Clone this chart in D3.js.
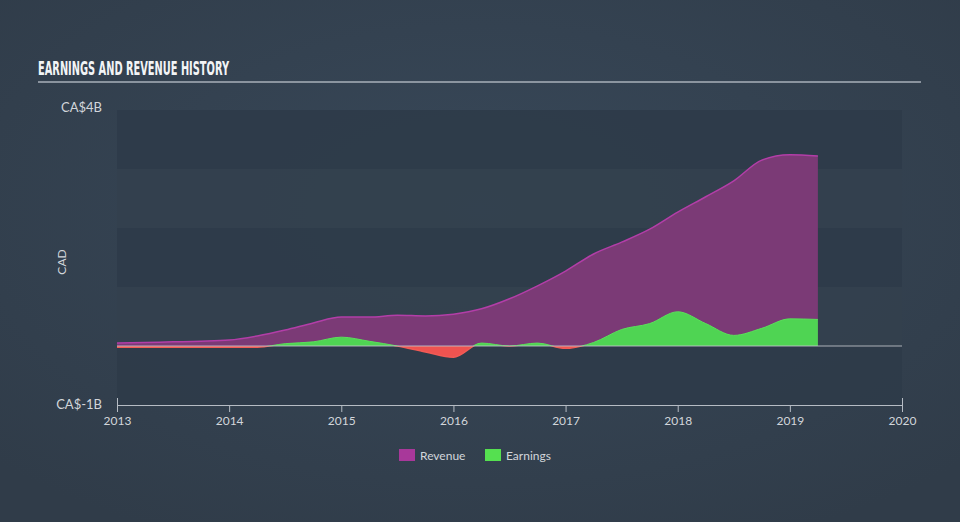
<!DOCTYPE html>
<html><head><meta charset="utf-8">
<script src="https://cdn.jsdelivr.net/npm/d3@7"></script>
<style>html,body{margin:0;padding:0;background:#333f4c;}svg{display:block;}</style>
</head><body>
<svg id="chart" width="960" height="522"></svg>
<script>
const years = [2013,2013.25,2013.5,2013.75,2014,2014.25,2014.5,2014.75,2015,2015.25,2015.5,2015.75,2016,2016.25,2016.5,2016.75,2017,2017.25,2017.5,2017.75,2018,2018.25,2018.5,2018.75,2019,2019.25];
const revenue = [0.05,0.06,0.07,0.08,0.10,0.17,0.27,0.39,0.49,0.49,0.52,0.51,0.54,0.63,0.80,1.02,1.27,1.56,1.76,1.98,2.27,2.53,2.80,3.15,3.24,3.22];
const earnings = [-0.02,-0.02,-0.02,-0.02,-0.02,-0.02,0.04,0.07,0.15,0.08,0.0,-0.10,-0.19,0.05,0.0,0.05,-0.04,0.06,0.28,0.38,0.58,0.38,0.18,0.30,0.46,0.45];
const xTicks = [2013,2014,2015,2016,2017,2018,2019,2020];
const yTickLabels = [{v:4,t:"CA$4B",dy:2},{v:-1,t:"CA$-1B",dy:4}];
const legendItems = [{name:"Revenue",color:"#a8389a"},{name:"Earnings",color:"#55e050"}];

const svg = d3.select("#chart");
const defs = svg.append("defs");
const rg = defs.append("radialGradient").attr("id","bg").attr("cx","50%").attr("cy","40%").attr("r","70%");
rg.append("stop").attr("offset","0%").attr("stop-color","#384859");
rg.append("stop").attr("offset","100%").attr("stop-color","#303c49");
svg.append("rect").attr("width",960).attr("height",522).attr("fill","url(#bg)");

const x = d3.scaleLinear().domain([2013,2020]).range([117,902]);
const y = d3.scaleLinear().domain([-1,4]).range([405,110]);

// bands
const bands = d3.range(-1,4);
svg.append("g").selectAll("rect").data(bands).join("rect")
  .attr("x",x(2013)).attr("width",x(2020)-x(2013))
  .attr("y",d=>y(d+1)).attr("height",d=>y(d)-y(d+1))
  .attr("fill",d=> (d%2===0) ? "#33404e" : "#2e3b49")
  .attr("opacity",0.9);

// title
svg.append("text").attr("x",38).attr("y",75)
  .attr("font-family","'Liberation Sans Narrow','DejaVu Sans Condensed',sans-serif")
  .attr("font-weight","bold").attr("font-size",19).attr("fill","#f2f4f6")
  .attr("textLength",191).attr("lengthAdjust","spacingAndGlyphs")
  .text("EARNINGS AND REVENUE HISTORY");
svg.append("line").attr("x1",38).attr("x2",921).attr("y1",82).attr("y2",82)
  .attr("stroke","#a9b1ba").attr("stroke-width",1.5);

const data = years.map((yr,i)=>({x:yr,r:revenue[i],e:earnings[i]}));
const curve = d3.curveMonotoneX;

// revenue
svg.append("path").datum(data)
  .attr("d",d3.area().curve(curve).x(d=>x(d.x)).y0(y(0)).y1(d=>y(d.r)))
  .attr("fill","#7b3a76");
svg.append("path").datum(data)
  .attr("d",d3.line().curve(curve).x(d=>x(d.x)).y(d=>y(d.r)))
  .attr("fill","none").attr("stroke","#b33ea8").attr("stroke-width",1.5);

// earnings clip
defs.append("clipPath").attr("id","above").append("rect")
  .attr("x",0).attr("y",0).attr("width",960).attr("height",y(0));
defs.append("clipPath").attr("id","below").append("rect")
  .attr("x",0).attr("y",y(0)).attr("width",960).attr("height",522-y(0));
const eArea = d3.area().curve(curve).x(d=>x(d.x)).y0(y(0)).y1(d=>y(d.e));
const eLine = d3.line().curve(curve).x(d=>x(d.x)).y(d=>y(d.e));
svg.append("path").datum(data).attr("d",eArea).attr("fill","#4fd453").attr("clip-path","url(#above)");
svg.append("path").datum(data).attr("d",eArea).attr("fill","#ef5350").attr("clip-path","url(#below)");
svg.append("path").datum(data).attr("d",eLine).attr("fill","none").attr("stroke","#5ae05a").attr("stroke-width",1).attr("clip-path","url(#above)");
svg.append("path").datum(data).attr("d",eLine).attr("fill","none").attr("stroke","#f25a55").attr("stroke-width",1.5).attr("clip-path","url(#below)");

// zero line
svg.append("line").attr("x1",x(2013)).attr("x2",x(2020)).attr("y1",y(0)).attr("y2",y(0))
  .attr("stroke","#c2c6cc").attr("stroke-width",1.2).attr("opacity",0.85);

// x axis
const xAxis = d3.axisBottom(x).tickValues(xTicks).tickFormat(d3.format("d")).tickSize(-7).tickPadding(11);
const gx = svg.append("g").attr("transform",`translate(0,${y(-1)})`).call(xAxis);
gx.select(".domain").attr("stroke","#b6bcc4");
gx.selectAll(".tick line").attr("stroke","#b6bcc4").attr("transform","translate(0,7)");
gx.selectAll(".tick text").attr("fill","#d2d6db").attr("font-family","Lato,'Open Sans',sans-serif").attr("font-size",12);

// y labels
svg.append("g").selectAll("text").data(yTickLabels).join("text")
  .attr("x",102).attr("y",d=>y(d.v)+d.dy).attr("text-anchor","end")
  .attr("fill","#d2d6db").attr("font-family","Lato,'Open Sans',sans-serif").attr("font-size",13)
  .text(d=>d.t);
svg.append("text").attr("transform","translate(66,262) rotate(-90)")
  .attr("text-anchor","middle").attr("fill","#d2d6db")
  .attr("font-family","Lato,'Open Sans',sans-serif").attr("font-size",12).text("CAD");

// legend
const lg = svg.append("g").selectAll("g").data(legendItems).join("g")
  .attr("transform",(d,i)=>`translate(${i===0?399:485},449)`);
lg.append("rect").attr("width",16).attr("height",12).attr("fill",d=>d.color);
lg.append("text").attr("x",21).attr("y",11).attr("fill","#d2d6db")
  .attr("font-family","Lato,'Open Sans',sans-serif").attr("font-size",12).text(d=>d.name);
</script>
</body></html>
